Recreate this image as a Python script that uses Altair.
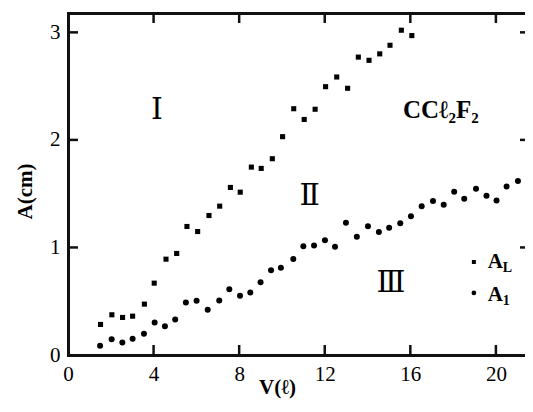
import altair as alt
import pandas as pd

# A_L (squares)
xL = [1.52, 2.05, 2.55, 3.02, 3.57, 4.03, 4.58, 5.08, 5.56, 6.06,
      6.59, 7.09, 7.59, 8.05, 8.57, 9.03, 9.55, 10.03, 10.55, 11.04,
      11.55, 12.04, 12.56, 13.07, 13.57, 14.07, 14.57, 15.05, 15.58, 16.07]
yL = [0.284, 0.374, 0.349, 0.361, 0.473, 0.668, 0.891, 0.944, 1.195, 1.148,
      1.297, 1.384, 1.558, 1.514, 1.747, 1.735, 1.825, 2.03, 2.29, 2.19,
      2.285, 2.495, 2.585, 2.48, 2.77, 2.74, 2.80, 2.88, 3.02, 2.97]

# A_1 (circles)
x1 = [1.50, 2.04, 2.54, 3.02, 3.55, 4.05, 4.53, 5.01, 5.51, 6.01,
      6.53, 7.07, 7.54, 8.04, 8.52, 9.00, 9.49, 9.95, 10.53, 11.0,
      11.5, 12.01, 12.48, 12.99, 13.5, 14.02, 14.53, 15.01, 15.53, 16.03,
      16.53, 17.06, 17.56, 18.05, 18.52, 19.07, 19.56, 20.03, 20.5, 21.03]
y1 = [0.086, 0.147, 0.116, 0.151, 0.197, 0.302, 0.268, 0.330, 0.488, 0.504,
      0.420, 0.507, 0.612, 0.551, 0.581, 0.677, 0.789, 0.811, 0.893, 1.012,
      1.019, 1.068, 1.006, 1.23, 1.10, 1.198, 1.143, 1.183, 1.226, 1.29,
      1.384, 1.431, 1.397, 1.518, 1.453, 1.546, 1.481, 1.437, 1.567, 1.617]

x_ticks = [0, 4, 8, 12, 16, 20]
y_ticks = [0, 1, 2, 3]
x_inner = [4, 8, 12, 16, 20]
y_inner = [1, 2, 3]

regions = ["Ⅰ", "Ⅱ", "Ⅲ"]
region_x = [4.16, 11.3, 15.1]
region_y = [2.28, 1.48, 0.67]

W, H = 457, 342
XMAX, YMAX = 21.36, 3.18
SERIF = "Liberation Serif"
INK = "#111111"

xs = alt.Scale(domain=[0, XMAX], nice=False, zero=False)
ys = alt.Scale(domain=[0, YMAX], nice=False, zero=False)

dfL = pd.DataFrame({"x": xL, "y": yL})
df1 = pd.DataFrame({"x": x1, "y": y1})

x_axis = alt.Axis(values=x_ticks, title="V(ℓ)", labelFont=SERIF, labelFontSize=21,
                  labelColor="black", ticks=False, domain=False, format="d",
                  grid=False, labelPadding=8, titleFont=SERIF, titleFontSize=21,
                  titleFontWeight="bold", titleColor="black", titleX=209, titleY=38,
                  titleAlign="center", titleBaseline="alphabetic", labelFlush=False)
y_axis = alt.Axis(values=y_ticks, title="A(cm)", labelFont=SERIF, labelFontSize=21,
                  labelColor="black", ticks=False, domain=False, format="d",
                  grid=False, labelPadding=8, titleFont=SERIF, titleFontSize=21,
                  titleFontWeight="bold", titleColor="black", titleX=-37, titleY=178,
                  titleAngle=270, titleAlign="center", titleBaseline="alphabetic",
                  labelFlush=False)


def X(field):
    return alt.X(field, scale=xs, axis=x_axis)


def Y(field):
    return alt.Y(field, scale=ys, axis=y_axis)


squares = alt.Chart(dfL).mark_point(shape="square", filled=True, color="black",
                                    size=26, opacity=1).encode(x=X("x:Q"), y=Y("y:Q"))
circles = alt.Chart(df1).mark_circle(color="black", size=36, opacity=1).encode(
    x=X("x:Q"), y=Y("y:Q"))

one = pd.DataFrame({"a": [0]})
# frame drawn as thin filled rects
frame_b = alt.Chart(one).mark_rect(color=INK, opacity=1).encode(
    x=alt.value(-1), x2=alt.value(W), y=alt.value(H - 1), y2=alt.value(H + 2))
frame_t = alt.Chart(one).mark_rect(color=INK, opacity=1).encode(
    x=alt.value(-1), x2=alt.value(W), y=alt.value(-1), y2=alt.value(2))
frame_l = alt.Chart(one).mark_rect(color=INK, opacity=1).encode(
    x=alt.value(-1), x2=alt.value(2), y=alt.value(-1), y2=alt.value(H + 2))

# inward ticks (tick marks = small rects)
dfxt = pd.DataFrame({"x": x_inner})
dfyt = pd.DataFrame({"y": y_inner})
bottom_ticks = alt.Chart(dfxt).mark_tick(color=INK, thickness=2.5, size=10, opacity=1).encode(
    x=X("x:Q"), y=alt.value(H - 5))
top_ticks = alt.Chart(dfxt).mark_tick(color=INK, thickness=2.5, size=10, opacity=1).encode(
    x=X("x:Q"), y=alt.value(5))
left_ticks = alt.Chart(dfyt).mark_tick(color=INK, thickness=2.5, size=10, opacity=1).encode(
    y=Y("y:Q"), x=alt.value(5))
right_ticks = alt.Chart(dfyt).mark_tick(color=INK, thickness=2.5, size=10, opacity=1).encode(
    y=Y("y:Q"), x=alt.value(W))

dfr = pd.DataFrame({"x": region_x, "y": region_y, "t": regions})
region_text = alt.Chart(dfr).mark_text(font="DejaVu Serif", fontSize=30, color="black",
                                       align="center", baseline="middle").encode(
    x=X("x:Q"), y=Y("y:Q"), text="t:N")

gas = alt.Chart(pd.DataFrame({"x": [17.43], "y": [2.28], "t": ["CCℓ₂F₂"]})).mark_text(
    font=SERIF, fontWeight="bold", fontSize=25, color="black", align="center",
    baseline="middle").encode(x=X("x:Q"), y=Y("y:Q"), text="t:N")

# manual legend
leg_sq = alt.Chart(pd.DataFrame({"x": [18.97], "y": [0.865]})).mark_point(
    shape="square", filled=True, color="black", size=16, opacity=1).encode(
    x=X("x:Q"), y=Y("y:Q"))
leg_ci = alt.Chart(pd.DataFrame({"x": [18.97], "y": [0.577]})).mark_circle(
    color="black", size=22, opacity=1).encode(x=X("x:Q"), y=Y("y:Q"))
leg_A = alt.Chart(pd.DataFrame({"x": [19.62, 19.62], "y": [0.81, 0.50], "t": ["A", "A"]})).mark_text(
    font=SERIF, fontWeight="bold", fontSize=21, color="black", align="left",
    baseline="alphabetic").encode(x=X("x:Q"), y=Y("y:Q"), text="t:N")
leg_sub = alt.Chart(pd.DataFrame({"x": [19.62, 19.62], "y": [0.81, 0.50], "t": ["L", "1"]})).mark_text(
    font=SERIF, fontWeight="bold", fontSize=14, color="black", align="left",
    baseline="alphabetic", dx=15, dy=4).encode(x=X("x:Q"), y=Y("y:Q"), text="t:N")

chart = alt.layer(
    squares, circles, frame_b, frame_t, frame_l,
    bottom_ticks, top_ticks, left_ticks, right_ticks,
    region_text, gas, leg_sq, leg_ci, leg_A, leg_sub
).properties(
    width=W, height=H,
    autosize=alt.AutoSizeParams(type="none"),
    padding={"left": 60, "top": 5, "right": 0, "bottom": 45},
).configure_view(stroke=None)

chart.save("out.html", embed_options={"renderer": "svg", "actions": False})
